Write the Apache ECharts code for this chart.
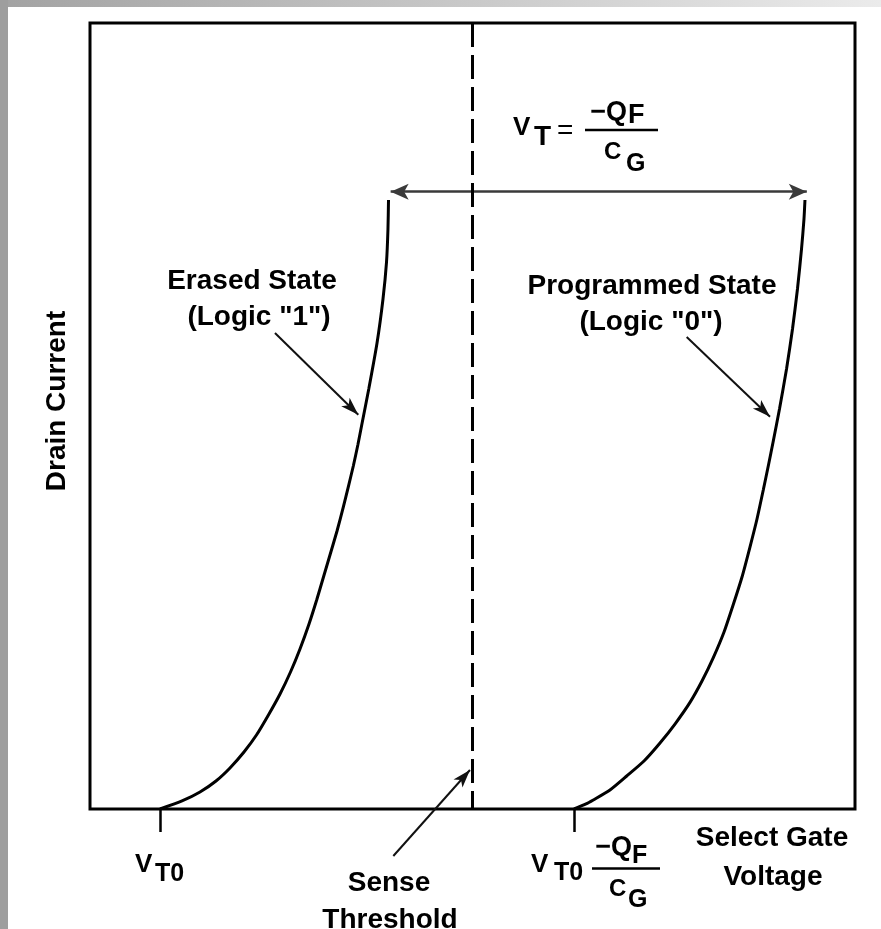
<!DOCTYPE html>
<html><head><meta charset="utf-8">
<script src="https://cdn.jsdelivr.net/npm/echarts@6/dist/echarts.min.js"></script>
<style>html,body{margin:0;padding:0;background:#fff}#c{width:881px;height:929px}</style>
</head><body><div id="c"></div>
<script>
// ---- data (x: select gate voltage, arbitrary units 0..10; y: drain current 0..100) ----
const erasedX = [0.915, 1.203, 1.438, 1.647, 1.830, 2.013, 2.176, 2.340, 2.484, 2.621, 2.745, 2.863, 2.963, 3.052,
                 3.137, 3.229, 3.311, 3.379, 3.442, 3.501, 3.552, 3.644, 3.752, 3.830, 3.876, 3.895, 3.902];
const erasedY = [0, 1.02, 2.16, 3.56, 5.22, 7.25, 9.41, 12.09, 14.63, 17.43, 20.36, 23.54, 26.59, 29.52,
                 32.32, 35.37, 38.42, 41.09, 43.64, 46.31, 48.85, 53.44, 59.29, 64.89, 69.59, 73.79, 77.48];
const programmedX = [6.327, 6.484, 6.579, 6.797, 7.016, 7.242, 7.451, 7.647, 7.843, 8.000, 8.148, 8.288, 8.409,
                     8.523, 8.627, 8.719, 8.801, 8.869, 8.932, 9.013, 9.105, 9.183, 9.248, 9.301, 9.333, 9.346];
const programmedY = [0, 0.64, 1.15, 2.42, 4.20, 6.11, 8.40, 10.81, 13.56, 16.28, 19.26, 22.52, 26.02,
                     29.52, 33.33, 36.90, 40.59, 43.77, 46.82, 50.89, 55.98, 61.07, 66.16, 71.25, 75.06, 77.48];
const senseThresholdX = 5.0;
const thresholdSpanY = [100, 0];
const tickValues = [0.915, 6.327];            // V_T0 and V_T0 - Q_F/C_G
const shiftArrowX = [3.93, 9.37];              // V_T = -Q_F / C_G span
const shiftArrowY = 78.54;
const erasedPointer = [[2.418, 60.56], [3.507, 50.17]];
const programmedPointer = [[7.800, 60.05], [8.889, 49.91]];
const sensePointer = [[3.965, -5.98], [4.967, 4.96]];

const FF = "'Liberation Sans', Arial, Helvetica, sans-serif";
const zip = (xs, ys) => xs.map((x, i) => [x, ys[i]]);

function txt(text, x, y, size, opt) {
  opt = opt || {};
  return {
    type: 'text', x: x, y: y, rotation: opt.rot || 0, z: 100, silent: true,
    style: {
      text: text, fontSize: size, fontWeight: opt.w || 'bold', fontFamily: FF,
      fill: '#000', align: opt.align || 'center', verticalAlign: 'middle'
    }
  };
}
function hline(x1, x2, y) {
  return { type: 'line', z: 100, silent: true, shape: { x1: x1, y1: y, x2: x2, y2: y },
           style: { stroke: '#000', lineWidth: 2.5 } };
}

const chart = echarts.init(document.getElementById('c'), null, { renderer: 'canvas' });
chart.setOption({
  animation: false,
  backgroundColor: '#ffffff',
  grid: { left: 90, right: 26, top: 23, bottom: 120, show: true, borderColor: '#000', borderWidth: 3, backgroundColor: 'transparent' },
  xAxis: {
    type: 'value', min: 0, max: 10,
    axisLine: { show: false }, splitLine: { show: false },
    axisLabel: { show: false },
    axisTick: { show: true, customValues: tickValues, length: 23, inside: false, lineStyle: { color: '#000', width: 2.5 } }
  },
  yAxis: { type: 'value', min: 0, max: 100, show: false },
  series: [
    {
      name: 'Erased State', type: 'line', data: zip(erasedX, erasedY), smooth: 0.2,
      symbol: 'none', lineStyle: { color: '#000', width: 3 }, silent: true
    },
    {
      name: 'Programmed State', type: 'line', data: zip(programmedX, programmedY), smooth: 0.2,
      symbol: 'none', lineStyle: { color: '#000', width: 3 }, silent: true
    },
    {
      name: 'Sense Threshold', type: 'line', silent: true,
      data: thresholdSpanY.map(y => [senseThresholdX, y]),
      symbol: 'none', lineStyle: { color: '#000', width: 3, type: [24, 8] }
    },
    {
      name: 'Annotations', type: 'lines', coordinateSystem: 'cartesian2d', clip: false, silent: true,
      polyline: false, large: false,
      symbol: ['none', 'arrow'], symbolSize: [[9, 18], [9, 18]],
      lineStyle: { color: '#111', width: 2, opacity: 1, curveness: 0 },
      data: [
        { coords: [[shiftArrowX[0], shiftArrowY], [shiftArrowX[1], shiftArrowY]],
          symbol: ['arrow', 'arrow'], symbolSize: [[12, 18], [12, 18]],
          lineStyle: { color: '#3a3a3a', width: 2.5, opacity: 1 } },
        { coords: erasedPointer },
        { coords: programmedPointer },
        { coords: sensePointer }
      ]
    }
  ],
  graphic: [
    { type: 'rect', z: 200, silent: true, shape: { x: 0, y: 0, width: 881, height: 7 },
      style: { fill: new echarts.graphic.LinearGradient(0, 0, 1, 0, [{ offset: 0, color: '#a2a2a2' }, { offset: 1, color: '#ebebeb' }]) } },
    { type: 'rect', z: 201, silent: true, shape: { x: 0, y: 0, width: 8, height: 929 }, style: { fill: '#9e9e9e' } },

    txt('Drain Current', 57, 401, 28, { rot: Math.PI / 2 }),
    txt('Erased State', 252, 281, 28),
    txt('(Logic "1")', 259, 317, 28),
    txt('Programmed State', 652, 286, 28),
    txt('(Logic "0")', 651, 322, 28),
    txt('Select Gate', 772, 838, 28),
    txt('Voltage', 773, 877, 28),
    txt('Sense', 389, 883, 28),
    txt('Threshold', 390, 920, 28),

    // V_T = -Q_F / C_G
    txt('V', 513, 128, 26, { align: 'left' }),
    txt('T', 534, 137, 28, { align: 'left' }),
    txt('=', 557, 131, 28, { align: 'left', w: 'normal' }),
    hline(585, 658, 130),
    txt('\u2212Q', 627, 113, 27, { align: 'right' }),
    txt('F', 628, 116, 27, { align: 'left' }),
    txt('C', 604, 152, 24, { align: 'left' }),
    txt('G', 626, 164, 25, { align: 'left' }),

    // tick label V_T0
    txt('V', 135, 865, 26, { align: 'left' }),
    txt('T0', 155, 874, 25, { align: 'left' }),

    // tick label V_T0 -Q_F/C_G
    txt('V', 531, 865, 26, { align: 'left' }),
    txt('T0', 554, 873, 25, { align: 'left' }),
    hline(592, 660, 868.5),
    txt('\u2212Q', 632, 848, 27, { align: 'right' }),
    txt('F', 632, 856, 25, { align: 'left' }),
    txt('C', 609, 889, 24, { align: 'left' }),
    txt('G', 628, 900, 25, { align: 'left' })
  ]
});
</script>
</body></html>
